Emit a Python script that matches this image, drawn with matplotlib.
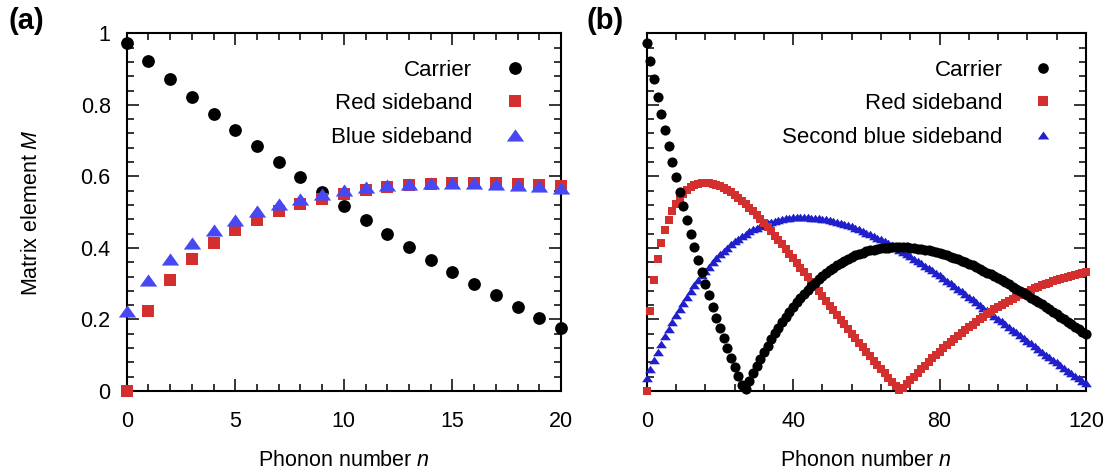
import numpy as np
import matplotlib
matplotlib.use("Agg")
import matplotlib.pyplot as plt
from matplotlib.ticker import MultipleLocator, FixedLocator, FixedFormatter

plt.rcParams['font.family'] = ['Liberation Sans', 'DejaVu Sans']
plt.rcParams['mathtext.fontset'] = 'custom'
plt.rcParams['mathtext.it'] = 'Liberation Sans:italic'
plt.rcParams['mathtext.rm'] = 'Liberation Sans'

# Matrix elements |M| versus phonon number n (n = 0 ... 120)
carrier = [
    0.974, 0.922, 0.872, 0.823, 0.775, 0.729, 0.684, 0.640, 0.598, 0.556,
    0.516, 0.477, 0.439, 0.403, 0.367, 0.333, 0.299, 0.267, 0.235, 0.205,
    0.175, 0.147, 0.119, 0.093, 0.067, 0.042, 0.018, 0.005, 0.027, 0.049,
    0.069, 0.089, 0.108, 0.126, 0.144, 0.161, 0.177, 0.193, 0.207, 0.222,
    0.235, 0.248, 0.261, 0.272, 0.283, 0.294, 0.303, 0.313, 0.322, 0.330,
    0.338, 0.345, 0.352, 0.358, 0.364, 0.369, 0.374, 0.379, 0.383, 0.386,
    0.390, 0.393, 0.395, 0.397, 0.399, 0.400, 0.401, 0.402, 0.403, 0.403,
    0.402, 0.402, 0.401, 0.400, 0.398, 0.397, 0.395, 0.393, 0.390, 0.388,
    0.385, 0.382, 0.379, 0.375, 0.372, 0.368, 0.364, 0.360, 0.355, 0.351,
    0.346, 0.341, 0.336, 0.331, 0.326, 0.321, 0.315, 0.309, 0.304, 0.298,
    0.292, 0.286, 0.280, 0.274, 0.267, 0.261, 0.254, 0.248, 0.242, 0.235,
    0.228, 0.221, 0.215, 0.208, 0.201, 0.194, 0.187, 0.180, 0.173, 0.166,
    0.160,
]
red_sideband = [
    0.000, 0.224, 0.309, 0.368, 0.413, 0.449, 0.479, 0.503, 0.523, 0.538,
    0.551, 0.561, 0.569, 0.575, 0.579, 0.581, 0.582, 0.581, 0.579, 0.576,
    0.572, 0.567, 0.561, 0.555, 0.547, 0.540, 0.531, 0.522, 0.512, 0.502,
    0.491, 0.481, 0.470, 0.458, 0.446, 0.434, 0.422, 0.410, 0.397, 0.384,
    0.371, 0.358, 0.345, 0.332, 0.318, 0.305, 0.292, 0.279, 0.265, 0.252,
    0.239, 0.226, 0.212, 0.199, 0.186, 0.173, 0.160, 0.147, 0.135, 0.122,
    0.110, 0.097, 0.085, 0.073, 0.061, 0.049, 0.037, 0.026, 0.014, 0.003,
    0.008, 0.019, 0.030, 0.040, 0.051, 0.061, 0.071, 0.081, 0.091, 0.100,
    0.110, 0.119, 0.128, 0.137, 0.145, 0.154, 0.162, 0.170, 0.178, 0.185,
    0.193, 0.200, 0.207, 0.214, 0.221, 0.228, 0.234, 0.240, 0.246, 0.252,
    0.258, 0.263, 0.268, 0.273, 0.278, 0.283, 0.287, 0.291, 0.296, 0.300,
    0.303, 0.307, 0.310, 0.314, 0.317, 0.320, 0.322, 0.325, 0.328, 0.330,
    0.332,
]
# first blue sideband, n = 0 ... 20
blue_sideband = [
    0.224, 0.309, 0.368, 0.413, 0.449, 0.479, 0.503, 0.523, 0.538, 0.551,
    0.561, 0.569, 0.575, 0.579, 0.581, 0.582, 0.581, 0.579, 0.576, 0.572,
    0.567,
]
second_blue_sideband = [
    0.036, 0.062, 0.086, 0.109, 0.132, 0.153, 0.173, 0.193, 0.212, 0.230,
    0.247, 0.264, 0.280, 0.295, 0.309, 0.323, 0.336, 0.348, 0.360, 0.371,
    0.382, 0.392, 0.401, 0.410, 0.418, 0.426, 0.433, 0.440, 0.446, 0.452,
    0.457, 0.462, 0.466, 0.470, 0.473, 0.476, 0.479, 0.481, 0.483, 0.484,
    0.486, 0.486, 0.487, 0.486, 0.486, 0.485, 0.484, 0.483, 0.482, 0.480,
    0.478, 0.475, 0.473, 0.470, 0.467, 0.463, 0.460, 0.456, 0.452, 0.448,
    0.443, 0.439, 0.434, 0.429, 0.424, 0.418, 0.413, 0.407, 0.401, 0.395,
    0.389, 0.383, 0.377, 0.370, 0.364, 0.357, 0.350, 0.344, 0.337, 0.330,
    0.323, 0.316, 0.308, 0.301, 0.294, 0.286, 0.279, 0.271, 0.264, 0.256,
    0.249, 0.241, 0.233, 0.226, 0.218, 0.210, 0.202, 0.195, 0.187, 0.179,
    0.171, 0.164, 0.156, 0.148, 0.140, 0.133, 0.125, 0.117, 0.110, 0.102,
    0.095, 0.087, 0.080, 0.072, 0.065, 0.057, 0.050, 0.042, 0.035, 0.028,
    0.021,
]

n_a = np.arange(len(blue_sideband))
n_b = np.arange(len(carrier))

y_ticks = [0, 0.2, 0.4, 0.6, 0.8, 1.0]
y_ticklabels = ["0", "0.2", "0.4", "0.6", "0.8", "1"]

RED = "#d32f2f"
BLUE_A = "#4848f2"
BLUE_B = "#1f1fcc"
FS = 15.5
FS_LEG = 16

# flattened up-pointing triangle
tri = [(-1.0, -0.7), (1.0, -0.7), (0.0, 0.7)]

W, H = 1106, 472
fig = plt.figure(figsize=(W / 100, H / 100), dpi=100)
ax_a = fig.add_axes([126.7 / W, 1 - 391 / H, 434.3 / W, 357.7 / H])
ax_b = fig.add_axes([646.7 / W, 1 - 391 / H, 439.3 / W, 357.7 / H])

# ---- panel (a)
ax_a.plot(n_a, carrier[:len(n_a)], 'o', color='k', ms=9.2, mew=0,
          clip_on=False, zorder=3, label='Carrier')
ax_a.plot(n_a, red_sideband[:len(n_a)], 's', color=RED, ms=9.0, mew=0,
          clip_on=False, zorder=4, label='Red sideband')
ax_a.plot(n_a, blue_sideband, marker=tri, ls='none', color=BLUE_A, ms=12.5,
          mew=0, clip_on=False, zorder=5, label='Blue sideband')

# ---- panel (b)
ax_b.plot(n_b, second_blue_sideband, marker=tri, ls='none', color=BLUE_B,
          ms=7.8, mew=0, clip_on=False, zorder=3,
          label='Second blue sideband')
ax_b.plot(n_b, red_sideband, 's', color=RED, ms=6.2, mew=0,
          clip_on=False, zorder=4, label='Red sideband')
ax_b.plot(n_b, carrier, 'o', color='k', ms=7.3, mew=0,
          clip_on=False, zorder=5, label='Carrier')

for ax in (ax_a, ax_b):
    ax.set_ylim(0, 1)
    ax.yaxis.set_major_locator(FixedLocator(y_ticks))
    ax.yaxis.set_minor_locator(MultipleLocator(0.04))
    for s in ax.spines.values():
        s.set_linewidth(1.5)
    ax.tick_params(which='both', direction='in', top=True, right=True,
                   labelsize=FS, width=1.1)
    ax.tick_params(which='major', length=8.4)
    ax.tick_params(which='minor', length=4.8)
    ax.tick_params(axis='x', pad=14.5)
    ax.tick_params(axis='y', pad=11.5)
    ax.set_xlabel('Phonon number $n$', fontsize=FS)
    ax.xaxis.set_label_coords(0.5, -0.2235)
    ax.xaxis.label.set_va('bottom')

ax_a.set_xlim(0, 20)
ax_a.xaxis.set_major_locator(MultipleLocator(5))
ax_a.xaxis.set_minor_locator(MultipleLocator(1))
ax_a.yaxis.set_major_formatter(FixedFormatter(y_ticklabels))
ax_a.set_ylabel('Matrix element $M$', fontsize=FS)
ax_a.yaxis.set_label_coords(-0.2072, 0.5)
ax_a.yaxis.label.set_va('baseline')

ax_b.set_xlim(0, 120)
ax_b.xaxis.set_major_locator(MultipleLocator(40))
ax_b.xaxis.set_minor_locator(MultipleLocator(8))
ax_b.tick_params(axis='y', labelleft=False)

# legends: label text on the left, marker on the right
h, l = ax_a.get_legend_handles_labels()
ax_a.legend(h, l, loc='upper right', bbox_to_anchor=(0.919, 0.926),
            markerfirst=False, frameon=False, fontsize=FS_LEG,
            handlelength=1.0, handletextpad=1.42, labelspacing=0.56,
            borderpad=0, borderaxespad=0)

h, l = ax_b.get_legend_handles_labels()
order = [2, 1, 0]
ax_b.legend([h[i] for i in order], [l[i] for i in order],
            loc='upper right', bbox_to_anchor=(0.9273, 0.926),
            markerfirst=False, frameon=False, fontsize=FS_LEG, markerscale=1.05,
            handlelength=1.0, handletextpad=1.31, labelspacing=0.56,
            borderpad=0, borderaxespad=0)

fig.text(8 / W, 1 - 29.4 / H, '(a)', ha='left', va='baseline',
         fontsize=21, fontweight='bold')
fig.text(587 / W, 1 - 29.4 / H, '(b)', ha='left', va='baseline',
         fontsize=21, fontweight='bold')

fig.savefig('out.png', dpi=100)
